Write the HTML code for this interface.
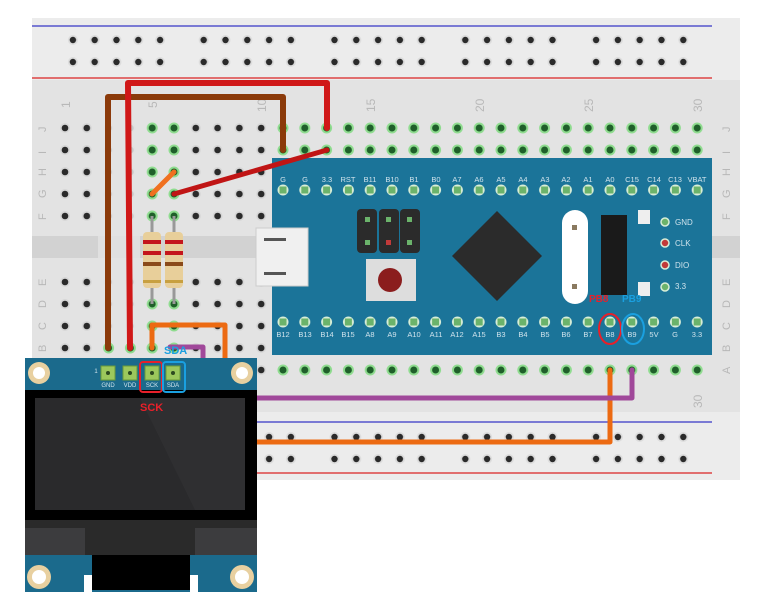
<!DOCTYPE html>
<html><head><style>
html,body{margin:0;padding:0;background:#fff;}
svg{display:block}
text{font-family:"Liberation Sans",sans-serif}
</style></head><body>
<svg width="777" height="609" viewBox="0 0 777 609">
<defs>
<pattern id="rail" x="62" y="29" width="21.8" height="22" patternUnits="userSpaceOnUse">
<circle cx="10.9" cy="11" r="5" fill="#dcdcdc"/><circle cx="10.9" cy="11" r="3.2" fill="#2a2a2a"/></pattern>
<pattern id="main" x="54.1" y="117" width="21.8" height="22" patternUnits="userSpaceOnUse">
<circle cx="10.9" cy="11" r="5" fill="#d6d6d6"/><circle cx="10.9" cy="11" r="3.3" fill="#2a2a2a"/></pattern>
<pattern id="green" x="54.1" y="117" width="21.8" height="22" patternUnits="userSpaceOnUse">
<circle cx="10.9" cy="11" r="5.5" fill="#8fdc8f"/><circle cx="10.9" cy="11" r="3.5" fill="#1f5f2a"/></pattern>
<pattern id="pinT" x="272.1" y="179" width="21.8" height="22" patternUnits="userSpaceOnUse">
<circle cx="10.9" cy="11" r="5.5" fill="#d8eed8"/><rect x="7.4" y="7.5" width="7" height="7" fill="#6bb36b"/></pattern>
</defs>
<!-- breadboard -->
<rect x="32" y="18" width="708" height="462" fill="#e3e3e3"/>
<rect x="32" y="18" width="708" height="62" fill="#ececec"/>
<line x1="32" y1="26" x2="712" y2="26" stroke="#5555cc" stroke-width="1.5"/>
<line x1="32" y1="78" x2="712" y2="78" stroke="#dd4444" stroke-width="1.5"/>
<rect x="32" y="236" width="708" height="22" fill="#d2d2d2"/>
<rect x="32" y="412" width="708" height="68" fill="#ececec"/>
<line x1="32" y1="422" x2="712" y2="422" stroke="#5555cc" stroke-width="1.5"/>
<line x1="32" y1="473" x2="712" y2="473" stroke="#dd4444" stroke-width="1.5"/>
<g>
<rect x="62" y="29" width="109" height="44" fill="url(#rail)"/>
<rect x="192.5" y="29" width="109" height="44" fill="url(#rail)"/>
<rect x="323" y="29" width="109" height="44" fill="url(#rail)"/>
<rect x="453.5" y="29" width="109" height="44" fill="url(#rail)"/>
<rect x="584" y="29" width="109" height="44" fill="url(#rail)"/>
</g>
<g transform="translate(0,397)">
<rect x="62" y="29" width="109" height="44" fill="url(#rail)"/>
<rect x="192.5" y="29" width="109" height="44" fill="url(#rail)"/>
<rect x="323" y="29" width="109" height="44" fill="url(#rail)"/>
<rect x="453.5" y="29" width="109" height="44" fill="url(#rail)"/>
<rect x="584" y="29" width="109" height="44" fill="url(#rail)"/>
</g>
<rect x="54.1" y="117" width="654" height="110" fill="url(#main)"/>
<rect x="54.1" y="271" width="654" height="110" fill="url(#main)"/>
<rect x="98" y="117" width="42" height="264" fill="#e3e3e3" opacity="0.85"/>
<rect x="141" y="117" width="44" height="110" fill="url(#green)"/>
<rect x="272" y="117" width="436" height="44" fill="url(#green)"/>
<rect x="141" y="271" width="44" height="88" fill="url(#green)"/>
<rect x="272" y="359" width="436" height="22" fill="url(#green)"/>
<rect x="97" y="337" width="66" height="22" fill="url(#green)"/>
<g fill="#b8b8b8" font-size="12">
<text transform="translate(70,108) rotate(-90)">1</text>
<text transform="translate(157,108) rotate(-90)">5</text>
<text transform="translate(266,112) rotate(-90)">10</text>
<text transform="translate(375,112) rotate(-90)">15</text>
<text transform="translate(484,112) rotate(-90)">20</text>
<text transform="translate(593,112) rotate(-90)">25</text>
<text transform="translate(702,112) rotate(-90)">30</text>
<text transform="translate(702,408) rotate(-90)">30</text>
</g>
<g fill="#b8b8b8" font-size="11">
<g transform="translate(46,0)">
<text transform="translate(0,132) rotate(-90)">J</text><text transform="translate(0,154) rotate(-90)">I</text><text transform="translate(0,176) rotate(-90)">H</text><text transform="translate(0,198) rotate(-90)">G</text><text transform="translate(0,220) rotate(-90)">F</text><text transform="translate(0,286) rotate(-90)">E</text><text transform="translate(0,308) rotate(-90)">D</text><text transform="translate(0,330) rotate(-90)">C</text><text transform="translate(0,352) rotate(-90)">B</text>
</g>
<g transform="translate(730,0)">
<text transform="translate(0,132) rotate(-90)">J</text><text transform="translate(0,154) rotate(-90)">I</text><text transform="translate(0,176) rotate(-90)">H</text><text transform="translate(0,198) rotate(-90)">G</text><text transform="translate(0,220) rotate(-90)">F</text><text transform="translate(0,286) rotate(-90)">E</text><text transform="translate(0,308) rotate(-90)">D</text><text transform="translate(0,330) rotate(-90)">C</text><text transform="translate(0,352) rotate(-90)">B</text><text transform="translate(0,374) rotate(-90)">A</text>
</g>
</g>
<!-- STM32 board -->
<rect x="272" y="158" width="440" height="197" fill="#1b7499"/>
<rect x="272.1" y="179" width="436" height="22" fill="url(#pinT)"/>
<rect x="272.1" y="311" width="436" height="22" fill="url(#pinT)"/>
<g fill="#cfe3ec" font-size="7.5" font-family="Liberation Mono" text-anchor="middle">
<text x="283" y="182">G</text><text x="305" y="182">G</text><text x="327" y="182">3.3</text><text x="348" y="182">RST</text><text x="370" y="182">B11</text><text x="392" y="182">B10</text><text x="414" y="182">B1</text><text x="436" y="182">B0</text><text x="457" y="182">A7</text><text x="479" y="182">A6</text><text x="501" y="182">A5</text><text x="523" y="182">A4</text><text x="545" y="182">A3</text><text x="566" y="182">A2</text><text x="588" y="182">A1</text><text x="610" y="182">A0</text><text x="632" y="182">C15</text><text x="654" y="182">C14</text><text x="675" y="182">C13</text><text x="697" y="182">VBAT</text>
<text x="283" y="337">B12</text><text x="305" y="337">B13</text><text x="327" y="337">B14</text><text x="348" y="337">B15</text><text x="370" y="337">A8</text><text x="392" y="337">A9</text><text x="414" y="337">A10</text><text x="436" y="337">A11</text><text x="457" y="337">A12</text><text x="479" y="337">A15</text><text x="501" y="337">B3</text><text x="523" y="337">B4</text><text x="545" y="337">B5</text><text x="566" y="337">B6</text><text x="588" y="337">B7</text><text x="610" y="337">B8</text><text x="632" y="337">B9</text><text x="654" y="337">5V</text><text x="675" y="337">G</text><text x="697" y="337">3.3</text>
</g>
<g fill="#cfe3ec" font-size="8" font-family="Liberation Mono">
<text x="675" y="225">GND</text><text x="675" y="246">CLK</text><text x="675" y="268">DIO</text><text x="675" y="289">3.3</text>
</g>
<circle cx="665" cy="222" r="4" fill="#6bb36b" stroke="#d8eed8" stroke-width="1.5"/>
<circle cx="665" cy="243" r="4" fill="#c23a3a" stroke="#d8eed8" stroke-width="1.5"/>
<circle cx="665" cy="265" r="4" fill="#c23a3a" stroke="#d8eed8" stroke-width="1.5"/>
<circle cx="665" cy="287" r="4" fill="#6bb36b" stroke="#d8eed8" stroke-width="1.5"/>
<rect x="638" y="210" width="12" height="14" fill="#eee"/>
<rect x="638" y="282" width="12" height="14" fill="#eee"/>
<rect x="601" y="215" width="26" height="80" fill="#1a1a1a"/>
<rect x="562" y="210" width="26" height="94" rx="13" fill="#fff"/>
<rect x="572" y="225" width="5" height="5" fill="#8a7a60"/><rect x="572" y="284" width="5" height="5" fill="#8a7a60"/>
<polygon points="497,211 542,256 497,301 452,256" fill="#2b2b2b"/>
<rect x="357" y="209" width="20" height="44" rx="4" fill="#2b2b2b"/>
<rect x="379" y="209" width="20" height="44" rx="4" fill="#2b2b2b"/>
<rect x="400" y="209" width="20" height="44" rx="4" fill="#2b2b2b"/>
<rect x="365" y="217" width="5" height="5" fill="#6bb36b"/><rect x="386" y="217" width="5" height="5" fill="#6bb36b"/><rect x="407" y="217" width="5" height="5" fill="#6bb36b"/>
<rect x="365" y="240" width="5" height="5" fill="#6bb36b"/><rect x="386" y="240" width="5" height="5" fill="#c23a3a"/><rect x="407" y="240" width="5" height="5" fill="#6bb36b"/>
<rect x="366" y="259" width="50" height="42" fill="#ddd"/>
<circle cx="390" cy="280" r="12" fill="#8b1d1d"/>
<rect x="256" y="228" width="52" height="58" fill="#f0f0f0" stroke="#ccc"/>
<rect x="264" y="238" width="22" height="3" fill="#555"/><rect x="264" y="272" width="22" height="3" fill="#555"/>
<text x="589" y="302" font-size="10" font-weight="bold" fill="#e8202a">PB8</text>
<text x="622" y="302" font-size="10" font-weight="bold" fill="#1aa0e0">PB9</text>
<ellipse cx="610" cy="329" rx="11" ry="15" fill="none" stroke="#e8202a" stroke-width="2"/>
<ellipse cx="633" cy="329" rx="11" ry="15" fill="none" stroke="#1aa0e0" stroke-width="2"/>
<!-- resistors -->
<line x1="152" y1="216" x2="152" y2="304" stroke="#999" stroke-width="3"/>
<line x1="174" y1="216" x2="174" y2="304" stroke="#999" stroke-width="3"/>
<rect x="143" y="232" width="18" height="56" rx="4" fill="#e8cf9a"/>
<rect x="165" y="232" width="18" height="56" rx="4" fill="#e8cf9a"/>
<g fill="#c4161c"><rect x="143" y="240" width="18" height="4"/><rect x="143" y="251" width="18" height="4"/><rect x="165" y="240" width="18" height="4"/><rect x="165" y="251" width="18" height="4"/></g>
<g fill="#8a4a1a"><rect x="143" y="262" width="18" height="4"/><rect x="165" y="262" width="18" height="4"/></g>
<g fill="#c8a040"><rect x="143" y="280" width="18" height="3"/><rect x="165" y="280" width="18" height="3"/></g>
<!-- wires -->
<g fill="none" stroke-linecap="round" stroke-linejoin="round">
<polyline points="108,348 108,97 283,97 283,150" stroke="#8b3a0a" stroke-width="6"/>
<polyline points="130,348 128,83 327,83 327,128" stroke="#d01818" stroke-width="6"/>
<line x1="174" y1="194" x2="327" y2="150" stroke="#c01515" stroke-width="5"/>
<line x1="152" y1="194" x2="174" y2="172" stroke="#f07020" stroke-width="5"/>
<polyline points="152,348 152,325 225,325 225,442 610,442 610,370" stroke="#ec6a12" stroke-width="5"/>
<polyline points="170,347 203,347 203,398 632,398 632,370" stroke="#a0489a" stroke-width="5"/>
</g>
<!-- OLED -->
<rect x="25" y="358" width="232" height="234" fill="#1b6a8c"/>
<rect x="25" y="390" width="232" height="138" fill="#000"/>
<rect x="35" y="398" width="210" height="112" fill="#2a2a2c"/>
<polygon points="140,398 245,398 245,510 195,510" fill="#2f2f31"/>
<rect x="25" y="520" width="232" height="35" fill="#2a2a2a"/>
<rect x="25" y="528" width="60" height="27" fill="#3c3c3e"/>
<rect x="195" y="528" width="62" height="27" fill="#3c3c3e"/>
<rect x="92" y="555" width="98" height="35" fill="#000"/>
<rect x="84" y="575" width="8" height="17" fill="#fff"/><rect x="190" y="575" width="8" height="17" fill="#fff"/>
<circle cx="39" cy="373" r="11" fill="#e8d0a0"/><circle cx="39" cy="373" r="6" fill="#fff"/>
<circle cx="242" cy="373" r="11" fill="#e8d0a0"/><circle cx="242" cy="373" r="6" fill="#fff"/>
<circle cx="39" cy="577" r="12" fill="#e8d0a0"/><circle cx="39" cy="577" r="7" fill="#fff"/>
<circle cx="242" cy="577" r="12" fill="#e8d0a0"/><circle cx="242" cy="577" r="7" fill="#fff"/>
<g fill="#9cc85c" stroke="#6a9a3a"><rect x="101" y="366" width="14" height="14"/><rect x="123" y="366" width="14" height="14"/><rect x="145" y="366" width="14" height="14"/><rect x="166" y="366" width="14" height="14"/></g>
<g fill="#2e4a20"><circle cx="108" cy="373" r="2"/><circle cx="130" cy="373" r="2"/><circle cx="152" cy="373" r="2"/><circle cx="173" cy="373" r="2"/></g>
<g fill="#cfe3ec" font-size="6" text-anchor="middle"><text x="108" y="387">GND</text><text x="130" y="387">VDD</text><text x="152" y="387">SCK</text><text x="173" y="387">SDA</text><text x="96" y="373">1</text></g>
<rect x="140" y="362" width="22" height="30" rx="3" fill="none" stroke="#e8202a" stroke-width="2"/>
<rect x="163" y="362" width="22" height="30" rx="3" fill="none" stroke="#1aa0e0" stroke-width="2"/>
<text x="140" y="411" font-size="11" font-weight="bold" fill="#e8202a">SCK</text>
<text x="164" y="354" font-size="11" font-weight="bold" fill="#1aa0e0">SDA</text>
</svg>
</body></html>
